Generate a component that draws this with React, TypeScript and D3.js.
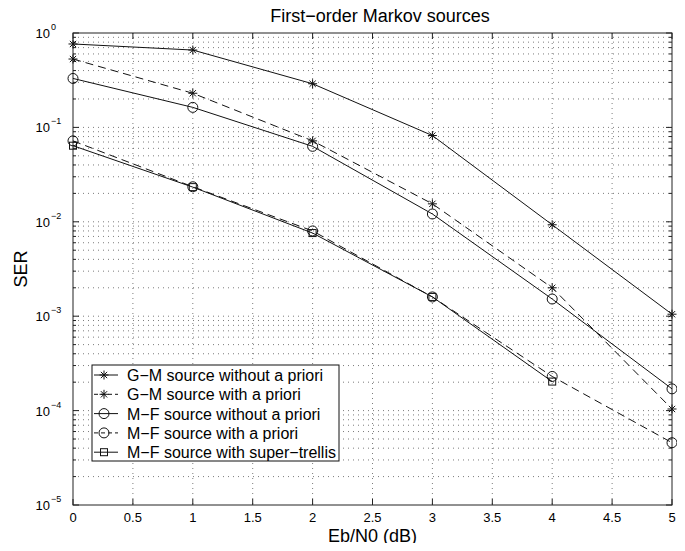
import * as d3 from 'd3';
import React, { useRef, useEffect } from 'react';

// Eb/N0 values (dB)
const ebn0 = [0, 1, 2, 3, 4, 5];
const gmWithout = [0.765, 0.66, 0.29, 0.082, 0.0093, 0.00105];
const gmWith = [0.53, 0.23, 0.072, 0.0155, 0.002, 0.000104];
const mfWithout = [0.33, 0.163, 0.063, 0.0121, 0.00152, 0.00017];
const mfWith = [0.072, 0.0235, 0.008, 0.0016, 0.00023, 0.0000457];
const mfTrellis = [0.064, 0.0233, 0.0076, 0.0016, 0.000203];

const xTicks = [0, 0.5, 1, 1.5, 2, 2.5, 3, 3.5, 4, 4.5, 5];
const yExps = [0, -1, -2, -3, -4, -5];

const seriesNames = [
    "G\u2212M source without a priori",
    "G\u2212M source with a priori",
    "M\u2212F source without a priori",
    "M\u2212F source with a priori",
    "M\u2212F source with super\u2212trellis",
];

function App() {
    const ref = useRef(null);
    const width = 685;
    const height = 551;

    useEffect(() => {
        draw();
    }, []);

    const draw = () => {
        const svg = d3.select(ref.current);
        svg.selectAll("*").remove();

        var margin = { top: 33, right: 13, bottom: 46, left: 73 };
        var wPlot = width - margin.left - margin.right;
        var hPlot = height - margin.top - margin.bottom;
        var font = "'Liberation Sans', Arial, Helvetica, sans-serif";

        var x = d3.scaleLinear().domain([0, 5]).range([0, wPlot]);
        var y = d3.scaleLog().domain([1e-5, 1]).range([hPlot, 0]);

        var g = svg.append("g")
            .attr("transform", "translate(" + margin.left + "," + margin.top + ")");

        // minor + major y values
        var yAll = [];
        for (let e = -5; e < 0; e++) {
            for (let m = 1; m < 10; m++) yAll.push(m * Math.pow(10, e));
        }
        yAll.push(1);

        // grid
        g.selectAll(".gy").data(yAll.filter(v => v > 1e-5 && v < 1)).enter()
            .append("line")
            .attr("x1", 0).attr("x2", wPlot)
            .attr("y1", d => y(d)).attr("y2", d => y(d))
            .attr("stroke", "#444").attr("stroke-width", 0.7)
            .attr("stroke-dasharray", "1,4");
        g.selectAll(".gx").data(xTicks.slice(1, -1)).enter()
            .append("line")
            .attr("x1", d => x(d)).attr("x2", d => x(d))
            .attr("y1", 0).attr("y2", hPlot)
            .attr("stroke", "#444").attr("stroke-width", 0.7)
            .attr("stroke-dasharray", "1,4");

        // box
        g.append("rect")
            .attr("width", wPlot).attr("height", hPlot)
            .attr("fill", "none").attr("stroke", "#222").attr("stroke-width", 1);

        // ticks (inside, both sides)
        xTicks.forEach(t => {
            g.append("line").attr("x1", x(t)).attr("x2", x(t)).attr("y1", hPlot).attr("y2", hPlot - 6).attr("stroke", "#222");
            g.append("line").attr("x1", x(t)).attr("x2", x(t)).attr("y1", 0).attr("y2", 6).attr("stroke", "#222");
            g.append("text")
                .attr("x", x(t)).attr("y", hPlot + 17)
                .attr("text-anchor", "middle")
                .style("font-family", font).style("font-size", "13px")
                .text(d3.format("")(t));
        });
        yAll.forEach(v => {
            var major = Math.abs(Math.log10(v) - Math.round(Math.log10(v))) < 1e-9;
            var len = major ? 6 : 3;
            g.append("line").attr("x1", 0).attr("x2", len).attr("y1", y(v)).attr("y2", y(v)).attr("stroke", "#222");
            g.append("line").attr("x1", wPlot).attr("x2", wPlot - len).attr("y1", y(v)).attr("y2", y(v)).attr("stroke", "#222");
        });
        yExps.forEach(e => {
            g.append("text")
                .attr("x", -23).attr("y", y(Math.pow(10, e)) + 5)
                .attr("text-anchor", "end")
                .style("font-family", font).style("font-size", "13px")
                .text("10");
            g.append("text")
                .attr("x", -22).attr("y", y(Math.pow(10, e)) - 3)
                .style("font-family", font).style("font-size", "9px")
                .text(e === 0 ? "0" : "\u2212" + Math.abs(e));
        });

        // labels
        svg.append("text")
            .attr("x", 380).attr("y", 22)
            .attr("text-anchor", "middle")
            .style("font-family", font).style("font-size", "18px")
            .text("First\u2212order Markov sources");
        svg.append("text")
            .attr("x", margin.left + wPlot / 2).attr("y", 542)
            .attr("text-anchor", "middle")
            .style("font-family", font).style("font-size", "18px")
            .text("Eb/N0 (dB)");
        svg.append("text")
            .attr("transform", "rotate(-90)")
            .attr("x", -269).attr("y", 27)
            .attr("text-anchor", "middle")
            .style("font-family", font).style("font-size", "18px")
            .text("SER");

        var series = [
            { vals: gmWithout, dash: null, marker: "star" },
            { vals: gmWith, dash: "8,5", marker: "star" },
            { vals: mfWithout, dash: null, marker: "circle" },
            { vals: mfWith, dash: "8,5", marker: "circle" },
            { vals: mfTrellis, dash: null, marker: "square" },
        ];

        var line = d3.line()
            .x(d => x(d[0]))
            .y(d => y(d[1]));

        function drawMarker(sel, type, cx, cy) {
            if (type === "star") {
                var s = 4.5;
                var p = "M" + (cx - s) + "," + cy + "L" + (cx + s) + "," + cy +
                    "M" + cx + "," + (cy - s) + "L" + cx + "," + (cy + s) +
                    "M" + (cx - s * 0.7) + "," + (cy - s * 0.7) + "L" + (cx + s * 0.7) + "," + (cy + s * 0.7) +
                    "M" + (cx - s * 0.7) + "," + (cy + s * 0.7) + "L" + (cx + s * 0.7) + "," + (cy - s * 0.7);
                sel.append("path").attr("d", p).attr("stroke", "#111").attr("stroke-width", 1).attr("fill", "none");
            } else if (type === "circle") {
                sel.append("circle").attr("cx", cx).attr("cy", cy).attr("r", 5)
                    .attr("fill", "none").attr("stroke", "#111").attr("stroke-width", 1);
            } else {
                sel.append("rect").attr("x", cx - 3.5).attr("y", cy - 3.5).attr("width", 7).attr("height", 7)
                    .attr("fill", "none").attr("stroke", "#111").attr("stroke-width", 1);
            }
        }

        series.forEach(s => {
            var pts = s.vals.map((v, i) => [ebn0[i], v]);
            g.append("path")
                .datum(pts)
                .attr("d", line)
                .attr("fill", "none")
                .attr("stroke", "#111")
                .attr("stroke-width", 1)
                .attr("stroke-dasharray", s.dash);
            pts.forEach(p => drawMarker(g, s.marker, x(p[0]), y(p[1])));
        });

        // legend
        var lg = svg.append("g").attr("transform", "translate(92,365)");
        lg.append("rect").attr("width", 247).attr("height", 96)
            .attr("fill", "white").attr("stroke", "#111").attr("stroke-width", 1);
        series.forEach((s, i) => {
            var cy = 10 + i * 19.3;
            lg.append("line").attr("x1", 2).attr("x2", 26).attr("y1", cy).attr("y2", cy)
                .attr("stroke", "#111").attr("stroke-dasharray", s.dash ? "4,3" : null);
            drawMarker(lg, s.marker, 12, cy);
            lg.append("text")
                .attr("x", 35).attr("y", cy + 6)
                .style("font-family", font).style("font-size", "16px")
                .text(seriesNames[i]);
        });
    };

    return (
        <div style={{ margin: -8 }}>
            <svg ref={ref} width={width} height={height} style={{ display: "block", background: "white" }}>
            </svg>
        </div>
    );
}

export default App;
